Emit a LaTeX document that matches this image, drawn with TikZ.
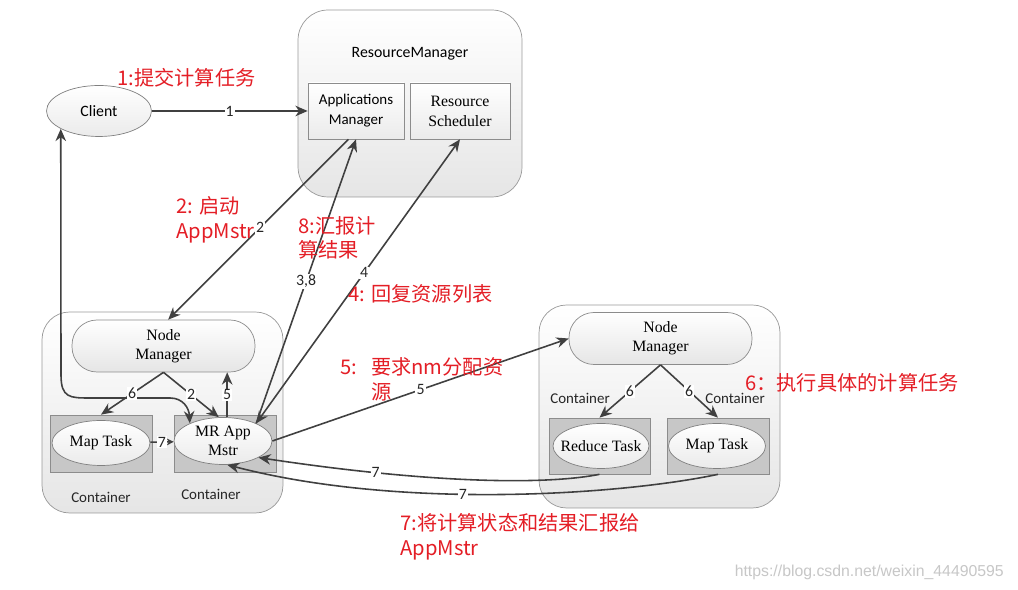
\documentclass[tikz,border=0pt]{standalone}
\usepackage{fontspec}
\setmainfont{Liberation Serif}
\setsansfont{Carlito}
\newfontfamily\cjk{Noto Sans CJK SC}
\newfontfamily\arialfont{Liberation Sans}
\usetikzlibrary{arrows.meta,shapes.geometric}
\definecolor{annot}{RGB}{228,30,38}
\definecolor{linegray}{RGB}{64,64,64}
\begin{document}
\begin{tikzpicture}[x=0.02cm,y=-0.02cm]
\path[fill=white, use as bounding box] (0,0) rectangle (1018,590);

\tikzset{box/.style={draw=black!40, rounded corners=0.55cm, top color=white, bottom color=black!10, inner sep=0pt}};
\tikzset{sub/.style={draw=black!45, top color=white, bottom color=black!8, align=center, inner sep=0pt}};
\tikzset{nm/.style={draw=black!45, rounded corners=0.5cm, top color=white, bottom color=black!10, align=center, inner sep=0pt, minimum width=3.66cm, minimum height=1.04cm, font=\fontsize{9}{11}\selectfont}};
\tikzset{cont/.style={draw=black!45, fill=black!22, inner sep=0pt}};
\tikzset{oval/.style={ellipse, draw=black!50, top color=white, bottom color=black!8, align=center, inner xsep=-6pt, inner ysep=-3pt, font=\fontsize{9}{11}\selectfont}};
\tikzset{lbl/.style={font=\sffamily\fontsize{8.5}{10}\selectfont, text=black!85}};
\tikzset{num/.style={fill=white, inner sep=0.6pt, font=\sffamily\fontsize{9}{9}\selectfont, text=black!85}};
\tikzset{arr/.style={-{Stealth[length=7pt,width=6pt]}, draw=linegray, line width=0.9pt}};
\tikzset{both/.style={arr, {Stealth[length=7pt,width=6pt]}-{Stealth[length=7pt,width=6pt]}}};
\tikzset{note/.style={anchor=west, align=left, text=annot, inner sep=0pt, font=\cjk\fontsize{11.5}{14}\selectfont}};

\node[box, minimum width=4.48cm, minimum height=3.74cm, rounded corners=0.6cm] (RM) at (410,103.5) {};
\node[font=\sffamily\fontsize{9}{10}\selectfont] (RMt) at (410,54) {ResourceManager};
\node[sub, minimum width=1.92cm, minimum height=1.12cm, font=\sffamily\fontsize{8.5}{11.3}\selectfont] (AM) at (356,111) {Applications\\Manager};
\node[sub, minimum width=2.0cm, minimum height=1.12cm, font=\fontsize{9}{11.3}\selectfont] (RS) at (460,111) {Resource\\Scheduler};
\node[oval, minimum width=2.1cm, minimum height=1.02cm, font=\sffamily\fontsize{9}{11}\selectfont] (C) at (99,111) {Client};

\node[box, minimum width=4.82cm, minimum height=4.02cm] (L) at (162.5,412.5) {};
\node[nm] (NM1) at (163.5,346) {Node\\Manager};
\node[cont, minimum width=2.04cm, minimum height=1.14cm] (MC1) at (101,443.5) {};
\node[cont, minimum width=2.04cm, minimum height=1.14cm] (RC) at (225,443.5) {};
\node[oval, minimum width=1.96cm, minimum height=0.9cm] (MT1) at (101,443) {Map Task};
\node[oval, minimum width=1.96cm, minimum height=0.94cm] (MR) at (223,441) {MR App\\Mstr};
\node[lbl] (cl1) at (101,497) {Container};
\node[lbl] (cl2) at (211,494) {Container};

\node[box, minimum width=4.82cm, minimum height=4.06cm] (R) at (659.5,406.5) {};
\node[nm] (NM2) at (660.5,338.5) {Node\\Manager};
\node[cont, minimum width=2.02cm, minimum height=1.12cm] (RdC) at (599.5,446) {};
\node[cont, minimum width=2.04cm, minimum height=1.12cm] (MC2) at (718,446) {};
\node[oval, minimum width=1.92cm, minimum height=0.9cm] (RdT) at (601,446) {Reduce Task};
\node[oval, minimum width=1.94cm, minimum height=0.9cm] (MT2) at (717,446) {Map Task};
\node[lbl] (cr1) at (580,398) {Container};
\node[lbl] (cr2) at (735,398) {Container};

\path (C) edge[arr] node[num] {1} (AM);
\path (AM.255) edge[arr] node[num, pos=0.49] {2} (NM1.80);
\path (MR.28) edge[arr] node[num] {3,8} (AM.south);
\path (MR.28) edge[both] node[num, pos=0.53] {4} (RS.south);
\draw[both] (C.205) -- (61,375) .. controls (61,398) and (70,398) .. (90,398) -- (170,398) .. controls (183,398) and (189,408) .. (MR.152);
\path (NM1.south) edge[arr] node[num] {6} (MC1.north);
\path (NM1.south) edge[arr] node[num] {2} (MR.100);
\path (MR.80) edge[arr] node[num] {5} (MR.80 |- NM1.south);
\path (MT1) edge[arr, -{Stealth[length=4pt,width=4pt]}] node[num] {7} (MR);
\path (MR.east) edge[arr] node[num] {5} (NM2.west);
\path (NM2.south) edge[arr] node[num] {6} (RdC.north);
\path (NM2.south) edge[arr] node[num] {6} (MC2.north);
\draw[arr] (RdC.south) .. controls (540,486) and (420,482) .. (MR.-25) node[num, pos=0.74] {7};
\draw[arr] (MC2.south) .. controls (620,495) and (400,510) .. (MR.280) node[num, pos=0.57] {7};

\node[note] (n1) at (117,78) {1:提交计算任务};
\node[note] (n2) at (176,220) {2: 启动\\AppMstr};
\node[note] (n8) at (298,238) {8:汇报计\\算结果};
\node[note] (n4) at (348,294) {4: 回复资源列表};
\node[note] (n5) at (340,382) {\begin{tabular}{@{}l@{\hspace{8pt}}l@{}}5: & 要求nm分配资\\ & 源\end{tabular}};
\node[note] (n6) at (745,383) {6：执行具体的计算任务};
\node[note] (n7) at (400,537) {7:将计算状态和结果汇报给\\AppMstr};
\node[anchor=east, text=black!22, font=\arialfont\fontsize{9}{10}\selectfont] (wm) at (1010,572) {https://blog.csdn.net/weixin\_44490595};
\end{tikzpicture}
\end{document}
